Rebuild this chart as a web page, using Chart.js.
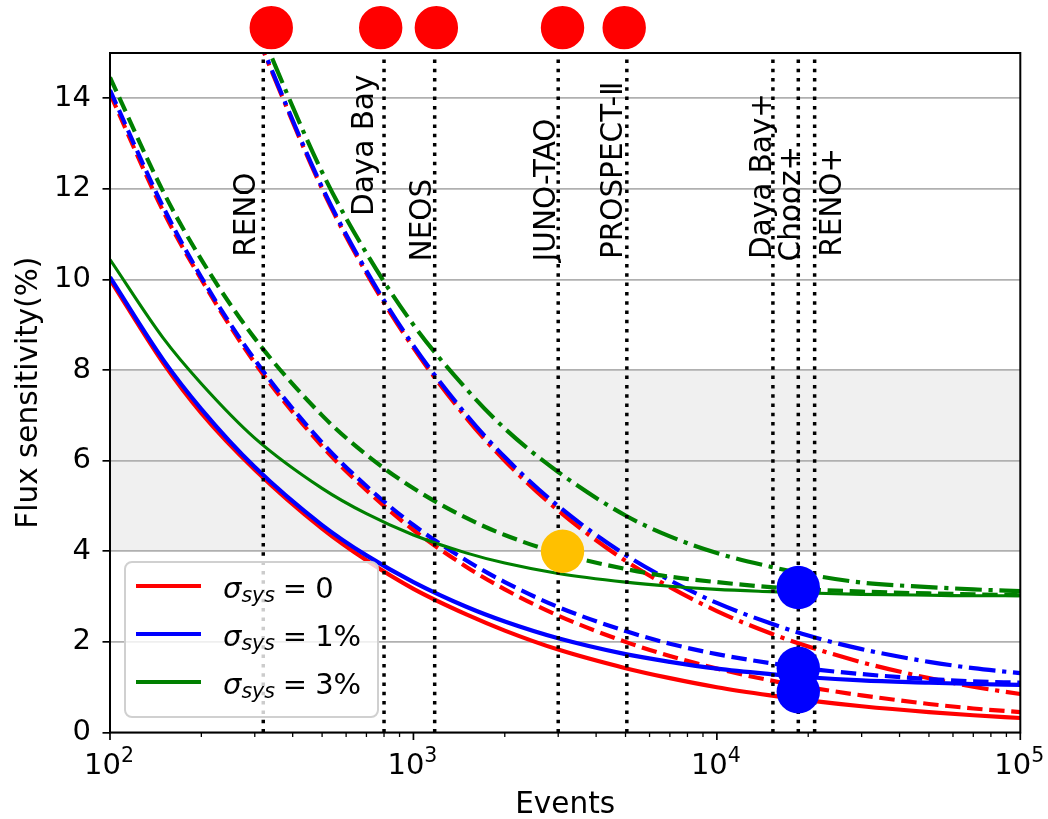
<!DOCTYPE html>
<html>
<head>
<meta charset="utf-8">
<script src="https://cdn.jsdelivr.net/npm/chart.js@4.4.1/dist/chart.umd.min.js"></script>
<style>
html,body{margin:0;padding:0;background:#ffffff;}
canvas{display:block;}
</style>
</head>
<body>
<canvas id="c" width="1048" height="819"></canvas>
<script>
// ---------------- data ----------------
const events = [100,150,200,300,500,700,1000,1500,2000,3000,5000,7000,10000,15000,20000,30000,50000,70000,100000];

// sigma_sys = 0 (red)
const red0Solid    = [10.0, 8.15, 7.05, 5.8, 4.5, 3.8, 3.17, 2.6, 2.25, 1.83, 1.42, 1.2, 1.0, 0.82, 0.71, 0.58, 0.45, 0.38, 0.32];
const red0Dashed   = [14.1, 11.5, 10.0, 8.16, 6.32, 5.35, 4.47, 3.65, 3.16, 2.58, 2.0, 1.69, 1.41, 1.15, 1.0, 0.82, 0.63, 0.53, 0.45];
const red0DashDot  = [null, null, null, 15.49, 12.0, 10.14, 8.49, 6.93, 6.0, 4.9, 3.79, 3.21, 2.68, 2.19, 1.9, 1.55, 1.2, 1.01, 0.85];
// sigma_sys = 1% (blue)
const blue1Solid   = [10.05, 8.22, 7.14, 5.86, 4.58, 3.91, 3.32, 2.77, 2.45, 2.08, 1.73, 1.56, 1.41, 1.29, 1.22, 1.15, 1.10, 1.07, 1.05];
const blue1Dashed  = [14.18, 11.59, 10.05, 8.23, 6.4, 5.44, 4.58, 3.79, 3.32, 2.77, 2.24, 1.96, 1.73, 1.53, 1.41, 1.29, 1.18, 1.13, 1.1];
const blue1DashDot = [null, null, null, 15.52, 12.04, 10.19, 8.54, 7.0, 6.08, 5.0, 3.92, 3.36, 2.86, 2.41, 2.14, 1.84, 1.56, 1.42, 1.31];
// sigma_sys = 3% (green)
const green3Solid  = [10.44, 8.7, 7.7, 6.5, 5.39, 4.83, 4.36, 3.96, 3.74, 3.51, 3.32, 3.23, 3.16, 3.11, 3.08, 3.05, 3.03, 3.02, 3.02];
const green3Dashed = [14.46, 11.93, 10.44, 8.7, 7.0, 6.13, 5.39, 4.73, 4.36, 3.96, 3.61, 3.44, 3.32, 3.21, 3.16, 3.11, 3.07, 3.05, 3.03];
const green3DashDot= [null, null, null, 15.78, 12.37, 10.58, 9.0, 7.57, 6.71, 5.75, 4.79, 4.33, 3.96, 3.66, 3.49, 3.31, 3.21, 3.16, 3.12];

// experiments (vertical dotted lines)
const experimentNames  = ['RENO','Daya Bay','NEOS','JUNO-TAO','PROSPECT-\u2161','Daya Bay+','Chooz+','RENO+'];
const experimentEvents = [320, 800, 1175, 3000, 5050, 15300, 18550, 21000];

// markers
const topMarkerEvents   = [340, 780, 1190, 3100, 4950];
const topMarkerValues   = [15.56, 15.56, 15.56, 15.56, 15.56];
const goldMarkerEvents  = [3100];
const goldMarkerValues  = [4.0];
const blueMarkerEvents  = [18550, 18550, 18550];
const blueMarkerValues  = [3.2, 1.42, 0.9];

// shaded band and ticks
const bandRange    = [4, 8];
const yTickValues  = [0, 2, 4, 6, 8, 10, 12, 14];
const xMajorTicks  = [100, 1000, 10000, 100000];
const xMinorMults  = [2, 3, 4, 5, 6, 7, 8, 9];
const legendValues = ['0', '1%', '3%'];

// label anchors (data coordinates)
const labelAnchorEvents = [301, 737, 1140, 2919, 4853, 15070, 18850, 25700];
const labelAnchorValues = [10.5, 11.4, 10.4, 10.4, 10.45, 10.45, 10.4, 10.5];

// ---------------- styles ----------------
const RED = '#ff0000', BLUE = '#0000ff', GREEN = '#008000', GOLD = '#ffc000';
const FONT = '"DejaVu Sans"';
const LW = 4.17;
const DASH = [15.4, 6.7];
const DASHDOT = [26.7, 6.7, 4.2, 6.7];

function pts(ys) { return events.map((e, i) => ({x: e, y: ys[i]})); }
function curve(ys, color, dash, width, order) {
  return {
    data: pts(ys), borderColor: color, borderWidth: width, borderDash: dash,
    pointRadius: 0, fill: false, cubicInterpolationMode: 'monotone', order: order
  };
}

const xTickValues = [];
xMajorTicks.forEach((m, i) => {
  xTickValues.push(m);
  if (i < xMajorTicks.length - 1) xMinorMults.forEach(k => xTickValues.push(m * k));
});

const datasets = [];
// markers on top
datasets.push({
  data: topMarkerEvents.map((e, i) => ({x: e, y: topMarkerValues[i]})),
  showLine: false, pointRadius: 15.7, pointBorderWidth: 12,
  pointBackgroundColor: RED, pointBorderColor: RED, clip: false, order: 0
});
datasets.push({
  data: goldMarkerEvents.map((e, i) => ({x: e, y: goldMarkerValues[i]})),
  showLine: false, pointRadius: 21.7, pointBorderWidth: 0,
  pointBackgroundColor: GOLD, pointBorderColor: GOLD, order: 0
});
datasets.push({
  data: blueMarkerEvents.map((e, i) => ({x: e, y: blueMarkerValues[i]})),
  showLine: false, pointRadius: 21.7, pointBorderWidth: 0,
  pointBackgroundColor: BLUE, pointBorderColor: BLUE, order: 0
});
// vertical dotted lines
experimentEvents.forEach(v => {
  datasets.push({
    data: [{x: v, y: 0}, {x: v, y: 15}], borderColor: '#000000', borderWidth: 3.5,
    borderDash: [3.5, 5.8], pointRadius: 0, fill: false, order: 1
  });
});
// curves (green on top of blue on top of red)
datasets.push(curve(green3Solid, GREEN, [], 3.1, 2));
datasets.push(curve(green3Dashed, GREEN, DASH, LW, 2));
datasets.push(curve(green3DashDot, GREEN, DASHDOT, LW, 2));
datasets.push(curve(blue1Solid, BLUE, [], LW, 3));
datasets.push(curve(blue1Dashed, BLUE, DASH, LW, 3));
datasets.push(curve(blue1DashDot, BLUE, DASHDOT, LW, 3));
datasets.push(curve(red0Solid, RED, [], LW, 4));
datasets.push(curve(red0Dashed, RED, DASH, LW, 4));
datasets.push(curve(red0DashDot, RED, DASHDOT, LW, 4));

const decor = {
  id: 'decor',
  beforeDraw(chart) {
    const {ctx, chartArea: a, scales: {y}} = chart;
    ctx.save();
    ctx.fillStyle = '#f0f0f0';
    const yt = y.getPixelForValue(bandRange[1]), yb = y.getPixelForValue(bandRange[0]);
    ctx.fillRect(a.left, yt, a.right - a.left, yb - yt);
    ctx.restore();
  },
  afterDatasetsDraw(chart) {
    const {ctx, chartArea: a, scales: {x, y}} = chart;
    ctx.save();
    // spines
    ctx.strokeStyle = '#000'; ctx.lineWidth = 2;
    ctx.strokeRect(a.left, a.top, a.right - a.left, a.bottom - a.top);
    // x ticks
    ctx.lineWidth = 1.7;
    x.ticks.forEach(t => {
      const px = x.getPixelForValue(t.value);
      const major = xMajorTicks.includes(t.value);
      ctx.lineWidth = major ? 1.7 : 1.3;
      ctx.beginPath();
      ctx.moveTo(px, a.bottom);
      ctx.lineTo(px, a.bottom + (major ? 7.5 : 4.5));
      ctx.stroke();
    });
    // x tick labels (10^n)
    ctx.fillStyle = '#000';
    ctx.textBaseline = 'alphabetic';
    ctx.textAlign = 'left';
    xMajorTicks.forEach(v => {
      const px = x.getPixelForValue(v);
      const ex = String(Math.round(Math.log10(v)));
      ctx.font = '29px ' + FONT;
      const w1 = ctx.measureText('10').width;
      ctx.font = '20.5px ' + FONT;
      const w2 = ctx.measureText(ex).width;
      const start = px - (w1 + w2) / 2 - 1;
      ctx.font = '29px ' + FONT;
      ctx.fillText('10', start, 774);
      ctx.font = '20.5px ' + FONT;
      ctx.fillText(ex, start + w1, 762);
    });
    // axis titles
    ctx.font = '29.5px ' + FONT;
    ctx.textAlign = 'center';
    ctx.fillText('Events', (a.left + a.right) / 2, 813);
    ctx.save();
    ctx.translate(37, (a.top + a.bottom) / 2);
    ctx.rotate(-Math.PI / 2);
    ctx.fillText('Flux sensitivity(%)', 0, 0);
    ctx.restore();
    // experiment labels
    ctx.font = '29.5px ' + FONT;
    ctx.textAlign = 'left';
    experimentNames.forEach((n, i) => {
      const px = x.getPixelForValue(labelAnchorEvents[i]);
      const py = y.getPixelForValue(labelAnchorValues[i]);
      ctx.save();
      ctx.translate(px, py);
      ctx.rotate(-Math.PI / 2);
      ctx.fillText(n, 0, 0);
      ctx.restore();
    });
    // legend
    const bx = 125, by = 562, bw = 253, bh = 155, r = 7;
    ctx.beginPath();
    ctx.moveTo(bx + r, by);
    ctx.arcTo(bx + bw, by, bx + bw, by + bh, r);
    ctx.arcTo(bx + bw, by + bh, bx, by + bh, r);
    ctx.arcTo(bx, by + bh, bx, by, r);
    ctx.arcTo(bx, by, bx + bw, by, r);
    ctx.closePath();
    ctx.fillStyle = 'rgba(255,255,255,0.8)';
    ctx.fill();
    ctx.strokeStyle = '#d0d0d0'; ctx.lineWidth = 2;
    ctx.stroke();
    const colors = [RED, BLUE, GREEN];
    legendValues.forEach((v, i) => {
      const base = 597.5 + i * 48;
      ctx.strokeStyle = colors[i]; ctx.lineWidth = 3.8;
      ctx.beginPath();
      ctx.moveTo(136, base - 11.5); ctx.lineTo(201, base - 11.5);
      ctx.stroke();
      ctx.fillStyle = '#000';
      ctx.textAlign = 'left';
      let cx = 223;
      ctx.font = 'italic 29px ' + FONT;
      ctx.fillText('\u03C3', cx, base);
      cx += ctx.measureText('\u03C3').width;
      ctx.font = 'italic 20.5px ' + FONT;
      ctx.fillText('sys', cx, base + 4.5);
      cx += ctx.measureText('sys').width + 8;
      ctx.font = '29px ' + FONT;
      ctx.fillText('=', cx, base);
      cx += ctx.measureText('=').width + 8;
      ctx.fillText(v, cx, base);
    });
    ctx.restore();
  }
};

new Chart(document.getElementById('c'), {
  type: 'line',
  data: { datasets: datasets },
  options: {
    responsive: false,
    animation: false,
    devicePixelRatio: 1,
    events: [],
    layout: { padding: { top: 53, right: 27, left: 0, bottom: 0 } },
    plugins: { legend: { display: false }, tooltip: { enabled: false } },
    scales: {
      x: {
        type: 'logarithmic', min: 100, max: 100000,
        afterFit(s) { s.height = 86.5; },
        afterBuildTicks(s) { s.ticks = xTickValues.map(v => ({value: v})); },
        grid: { display: false }, border: { display: false },
        ticks: { display: false }
      },
      y: {
        type: 'linear', min: 0, max: 15,
        afterFit(s) { s.width = 110; },
        afterBuildTicks(s) { s.ticks = yTickValues.map(v => ({value: v})); },
        grid: { color: '#b0b0b0', lineWidth: 1.7, drawTicks: true, tickLength: 7.5,
                tickColor: '#000000', tickWidth: 1.7 },
        border: { display: false },
        ticks: { color: '#000000', font: { family: 'DejaVu Sans', size: 29 }, padding: 11.5,
                 callback: v => String(v) }
      }
    }
  },
  plugins: [decor]
});
</script>
</body>
</html>
